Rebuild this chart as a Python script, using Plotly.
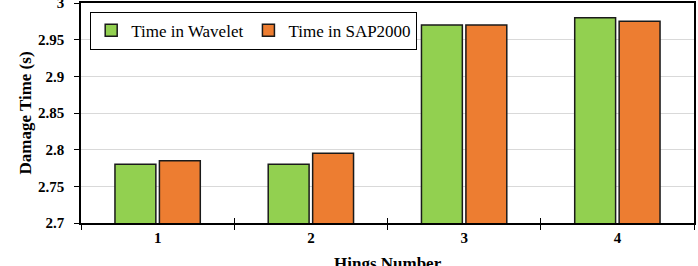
import plotly.graph_objects as go

categories = ["1", "2", "3", "4"]
wavelet = [2.78, 2.78, 2.97, 2.98]
sap2000 = [2.785, 2.795, 2.97, 2.975]
ytickvals = [2.7, 2.75, 2.8, 2.85, 2.9, 2.95, 3.0]
yticktext = ["2.7", "2.75", "2.8", "2.85", "2.9", "2.95", "3"]

font_family = "Liberation Serif"

fig = go.Figure()
fig.add_trace(go.Bar(x=categories, y=wavelet, name="Time in Wavelet",
                     marker=dict(color="#92D050", line=dict(color="#1a1a1a", width=1.5))))
fig.add_trace(go.Bar(x=categories, y=sap2000, name="Time in SAP2000",
                     marker=dict(color="#ED7D31", line=dict(color="#1a1a1a", width=1.5))))
# invisible helper trace for crossing ticks on the x axis
fig.add_trace(go.Bar(x=categories, y=[None]*4, xaxis="x2", showlegend=False, hoverinfo="skip"))

fig.update_layout(
    width=698, height=266,
    margin=dict(l=81, r=4, t=3, b=43, autoexpand=False),
    plot_bgcolor="white", paper_bgcolor="white",
    barmode="group", bargap=0.42, bargroupgap=0.08,
    font=dict(family=font_family, color="black"),
    legend=dict(orientation="h", x=0.015, y=0.96, xanchor="left", yanchor="top",
                bordercolor="black", borderwidth=1, bgcolor="white",
                font=dict(size=17, family=font_family), itemwidth=30,
                tracegroupgap=0),
    xaxis=dict(
        type="category", showline=True, linecolor="black", linewidth=1.5, mirror=True,
        ticks="outside", tickson="boundaries", ticklen=5, tickcolor="black", tickwidth=1,
        tickfont=dict(size=15, family=font_family, weight="bold"),
        showgrid=False, automargin=False,
    ),
    xaxis2=dict(
        type="category", overlaying="x", matches="x", showline=False,
        ticks="inside", tickson="boundaries", ticklen=5, tickcolor="black", tickwidth=1,
        showticklabels=False, showgrid=False, automargin=False,
    ),
    yaxis=dict(
        range=[2.7, 3.0], tickvals=ytickvals, ticktext=yticktext,
        showline=True, linecolor="black", linewidth=1.5, mirror=True,
        ticks="outside", ticklen=5, tickcolor="black",
        tickfont=dict(size=15, family=font_family, weight="bold"),
        ticklabeloverflow="allow", ticklabelstandoff=7,
        showgrid=True, gridcolor="#d9d9d9", gridwidth=1,
        title=dict(text="<b>Damage Time (s)</b>", font=dict(size=17, family=font_family), standoff=2),
        zeroline=False, automargin=False,
    ),
    annotations=[dict(
        text="<b>Hings Number</b>", xref="paper", yref="paper", x=0.5, y=-0.186,
        xanchor="center", yanchor="middle", showarrow=False,
        font=dict(size=17, family=font_family, color="black"),
    )],
)

fig.write_html("out.html")
